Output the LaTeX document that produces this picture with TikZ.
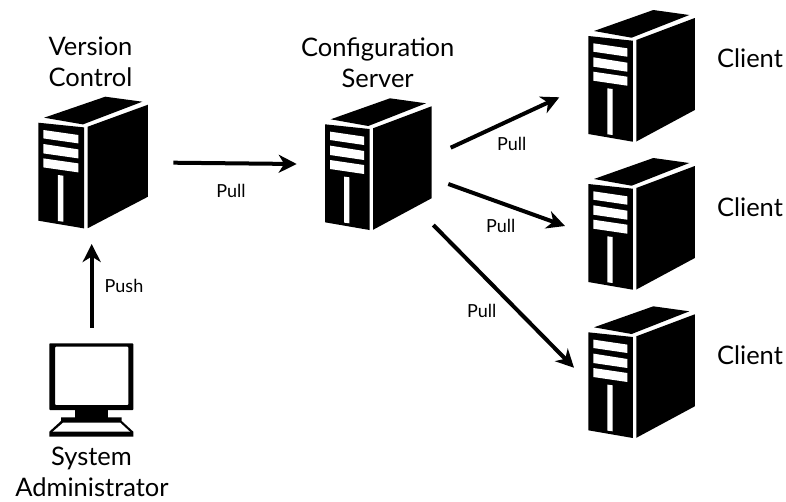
\documentclass[tikz,border=0pt]{standalone}
\usepackage{fontspec}
\setmainfont{Lato}
\usetikzlibrary{arrows.meta}
\tikzset{
  x=1pt,y=-1pt,
  flow/.style={line width=4pt,-{Stealth[length=18pt,width=18pt,inset=5.5pt]}},
  big/.style={font=\fontsize{25.5}{28}\selectfont,inner sep=0pt,anchor=base},
  small/.style={font=\fontsize{18}{20}\selectfont,inner sep=0pt,anchor=base},
  server/.pic={
    \fill[black] (0,0)--(44.5,4.7)--(44.5,105.7)--(0,98)--cycle;
    \fill[black] (48,4)--(106.5,-18)--(106.5,74)--(48,105.5)--cycle;
    \fill[black] (5.7,-5)--(65,-26)--(101,-21)--(43.3,1.7)--cycle;
    \fill[white] (5,7.3)--(39,12.3)--(39,20.7)--(5,15.7)--cycle;
    \fill[white] (5,21.3)--(39,26.7)--(39,35.7)--(5,30.7)--cycle;
    \fill[white] (5,35.7)--(39,40.7)--(39,49.7)--(5,44.7)--cycle;
    \fill[white] (19,52.3)--(24.3,53)--(24.3,99)--(19,98.3)--cycle;
  }
}
\begin{document}
\begin{tikzpicture}
\useasboundingbox (0,0) rectangle (786,501);
% servers
\pic[xscale=1.03] at (38.3,122.7) {server};
\pic at (325,124.3) {server};
\pic at (588.3,36) {server};
\pic at (588.3,184) {server};
\pic at (588.3,332.3) {server};
% monitor
\fill[black,rounded corners=0.8pt,even odd rule]
  (49.3,343.3) rectangle (133.3,410)
  (55,346.7) rectangle (128.3,405);
\fill[black] (75,410) rectangle (108.3,417.5);
\fill[black] (61,417.3)--(121.7,417.3)--(121.7,421)--(133.3,431.7)--(133.3,436.7)--(49.3,436.7)--(49.3,431.7)--(61,421)--cycle;
\fill[white] (63.3,422.5)--(120,422.5)--(130,431.7)--(52.7,431.7)--cycle;
% connector ends
\coordinate (vcOut) at (173.3,162.7);
\coordinate (cfgIn) at (296.7,164);
\coordinate (adminOut) at (91.7,327.7);
\coordinate (vcIn) at (91.7,244);
\coordinate (cfgOutA) at (450.7,147.7);
\coordinate (clientA) at (559.3,97.3);
\coordinate (cfgOutB) at (448.3,184);
\coordinate (clientB) at (565,226);
\coordinate (cfgOutC) at (433.3,225);
\coordinate (clientC) at (574,367.7);
\draw[flow] (vcOut) -- (cfgIn);
\draw[flow] (adminOut) -- (vcIn);
\draw[flow] (cfgOutA) -- (clientA);
\draw[flow] (cfgOutB) -- (clientB);
\draw[flow] (cfgOutC) -- (clientC);
% labels
\node[big] (vcA) at (90.5,55) {Version};
\node[big] (vcB) at (90.5,86) {Control};
\node[big] (cfgA) at (377.7,56.7) {Configuration};
\node[big] (cfgB) at (377.7,87.3) {Server};
\node[big] (cA) at (750,67.7) {Client};
\node[big] (cB) at (750,216) {Client};
\node[big] (cC) at (750,364.5) {Client};
\node[big] (adA) at (91.5,465.5) {System};
\node[big] (adB) at (92,496) {Administrator};
\node[small] (pullA) at (231,197.7) {Pull};
\node[small] (pullB) at (511.7,150.7) {Pull};
\node[small] (pullC) at (500.7,232.7) {Pull};
\node[small] (pullD) at (481.7,317.7) {Pull};
\node[small] (push) at (124,292.7) {Push};
\end{tikzpicture}
\end{document}
